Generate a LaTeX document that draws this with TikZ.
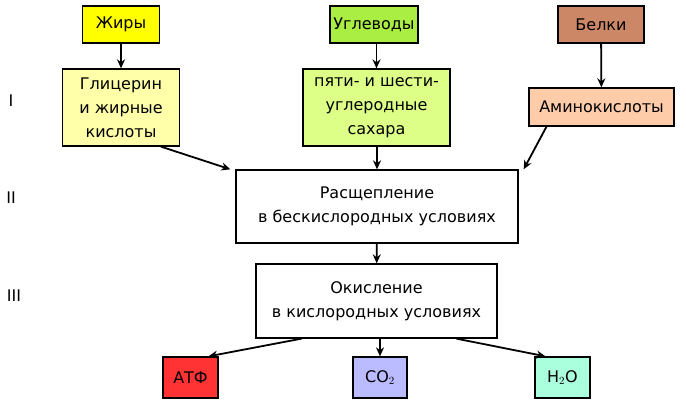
\documentclass[tikz,border=0pt]{standalone}
\usepackage{fontspec}
\usetikzlibrary{arrows.meta}
\setmainfont{DejaVu Sans}
\begin{document}
\begin{tikzpicture}[x=1pt,y=-1pt,
 box/.style={draw,line width=1.3pt,align=center,inner sep=0pt,font=\fontsize{16}{24}\selectfont},
 arr/.style={line width=1.8pt,-{Stealth[length=9pt,width=8pt]}},
 lbl/.style={font=\fontsize{16}{24}\selectfont}]
\useasboundingbox (0,0) rectangle (686,409);
\definecolor{cz}{HTML}{FFFF00}\definecolor{cu}{HTML}{AAEE44}\definecolor{cb}{HTML}{CC8866}
\definecolor{cg}{HTML}{FFFFAA}\definecolor{cp}{HTML}{DDFF88}\definecolor{ca}{HTML}{FFCCAA}
\definecolor{cr}{HTML}{FF3333}\definecolor{cc}{HTML}{BBBBFF}\definecolor{ch}{HTML}{AAFFDD}
\node[box,fill=cz,minimum width=77,minimum height=37] (z) at (121,24.5) {Жиры};
\node[box,fill=cu,minimum width=88,minimum height=37] (u) at (374,24.5) {Углеводы};
\node[box,fill=cb,minimum width=86,minimum height=37] (b) at (601,24.5) {Белки};
\node[box,fill=cg,minimum width=117,minimum height=77] (g) at (121,107.5) {Глицерин\\и жирные\\кислоты};
\node[box,fill=cp,minimum width=147,minimum height=77] (p) at (376.5,107.5) {пяти- и шести-\\углеродные\\сахара};
\node[box,fill=ca,minimum width=145,minimum height=38] (a) at (601.5,107) {Аминокислоты};
\node[box,fill=white,minimum width=282,minimum height=73] (r) at (377,206.5) {Расщепление\\в бескислородных условиях};
\node[box,fill=white,minimum width=241,minimum height=74] (o) at (376.5,301) {Окисление\\в кислородных условиях};
\node[box,fill=cr,minimum width=55,minimum height=41] (atf) at (190.5,377.5) {АТФ};
\node[box,fill=cc,minimum width=54,minimum height=41] (co) at (380,377.5) {CO$_2$};
\node[box,fill=ch,minimum width=55,minimum height=41] (ho) at (562.5,377.5) {H$_2$O};
\node[lbl] (l1) at (11,101) {I};
\node[lbl] (l2) at (11,198) {II};
\node[lbl] (l3) at (14,296) {III};
\draw[arr] (z) -- (g);
\draw[arr] (b) -- (a);
\draw[arr] (u.south -| p) -- (p);
\draw[arr] (p.south -| r) -- (r);
\draw[arr] (r) -- (o);
\draw[arr] ([xshift=40]g.south) -- ([xshift=-5]r.north west);
\draw[arr] ([xshift=-55]a.south) -- ([xshift=5]r.north east);
\draw[arr] ([xshift=-75]o.south) -- ([xshift=18]atf.north);
\draw[arr] (o.south -| co) -- (co);
\draw[arr] ([xshift=80]o.south) -- ([xshift=-17]ho.north);
\end{tikzpicture}
\end{document}
